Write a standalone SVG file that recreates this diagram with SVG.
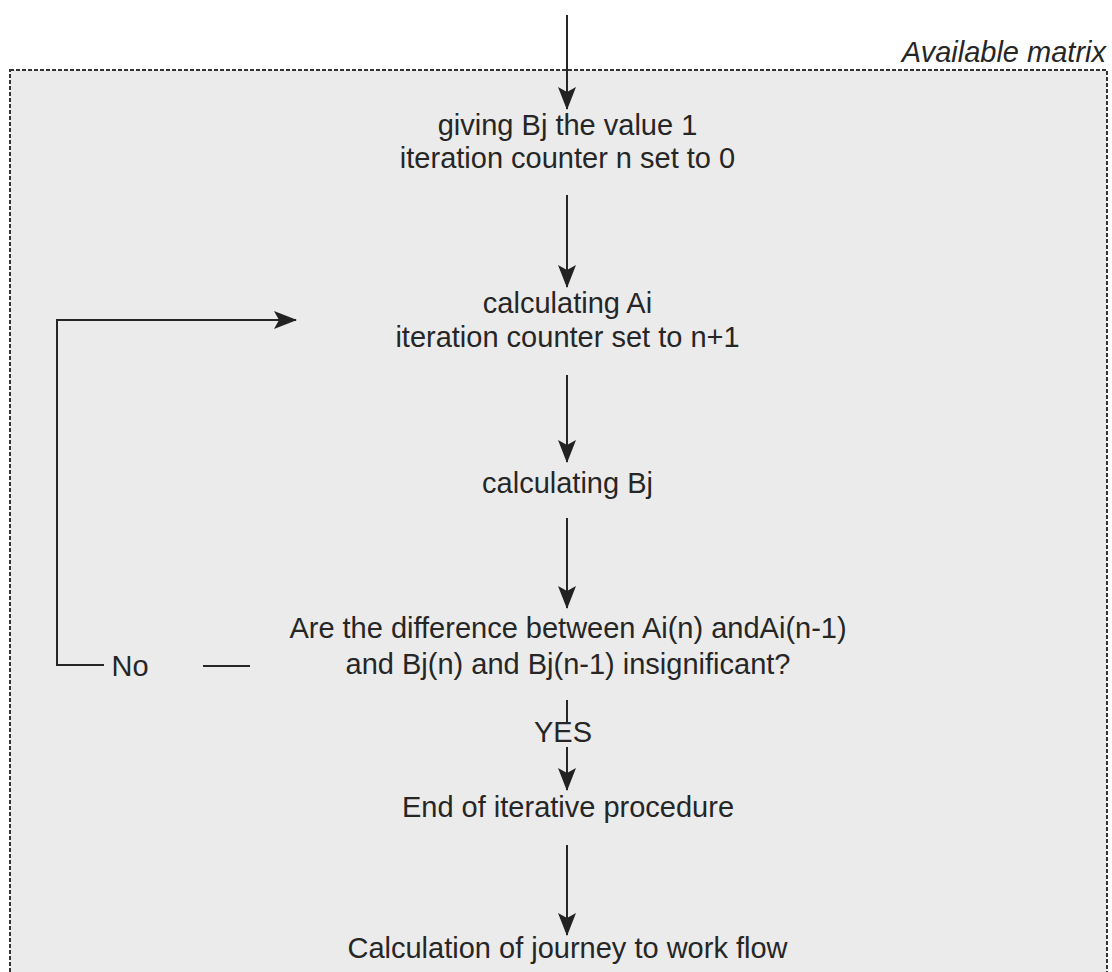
<svg xmlns="http://www.w3.org/2000/svg" width="1112" height="972" viewBox="0 0 1112 972">
<defs>
<marker id="ah" viewBox="0 0 23 18" refX="22" refY="9" markerWidth="23" markerHeight="18" markerUnits="userSpaceOnUse" orient="auto">
<path d="M0,0 L23,9 L0,18 L5,9 Z" fill="#222"/>
</marker>
<style>
.t{font-family:"Liberation Sans",Arial,sans-serif;font-size:29px;fill:#262626;text-anchor:middle}
.c{stroke:#262626;stroke-width:2;fill:none}
</style>
</defs>
<rect width="1112" height="972" fill="#fff"/>
<g id="matrix">
<rect x="10" y="70" width="1097" height="920" fill="#ebebeb" stroke="#333" stroke-width="2" stroke-dasharray="4,2"/>
<text x="1106" y="62" style="font-family:'Liberation Sans',Arial,sans-serif;font-size:29px;font-style:italic;fill:#262626;text-anchor:end">Available matrix</text>
</g>
<g id="connectors">
<line class="c" x1="567" y1="15" x2="567" y2="109" marker-end="url(#ah)"/>
<line class="c" x1="567" y1="195" x2="567" y2="287" marker-end="url(#ah)"/>
<line class="c" x1="567" y1="375" x2="567" y2="462" marker-end="url(#ah)"/>
<line class="c" x1="567" y1="518" x2="567" y2="608" marker-end="url(#ah)"/>
<line class="c" x1="567" y1="700" x2="567" y2="724"/>
<line class="c" x1="567" y1="747" x2="567" y2="790" marker-end="url(#ah)"/>
<line class="c" x1="567" y1="845" x2="567" y2="935" marker-end="url(#ah)"/>
<polyline class="c" points="104,665 57,665 57,320 296,320" marker-end="url(#ah)"/>
<line class="c" x1="203" y1="666" x2="250" y2="666"/>
<text class="t" x="130" y="676">No</text>
<text class="t" x="563" y="742">YES</text>
</g>
<g id="n1"><text class="t" x="567.5" y="135">giving Bj the value 1</text><text class="t" x="567.5" y="168">iteration counter n set to 0</text></g>
<g id="n2"><text class="t" x="567.5" y="313">calculating Ai</text><text class="t" x="567.5" y="347">iteration counter set to n+1</text></g>
<g id="n3"><text class="t" x="567.5" y="493">calculating Bj</text></g>
<g id="n4"><text class="t" x="568" y="638">Are the difference between Ai(n) andAi(n-1)</text><text class="t" x="568" y="674">and Bj(n) and Bj(n-1) insignificant?</text></g>
<g id="n5"><text class="t" x="568" y="817">End of iterative procedure</text></g>
<g id="n6"><text class="t" x="567.5" y="958">Calculation of journey to work flow</text></g>
</svg>
